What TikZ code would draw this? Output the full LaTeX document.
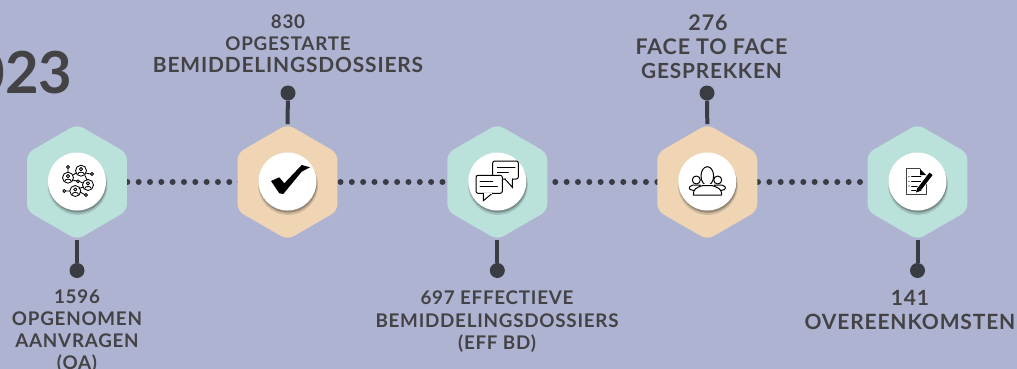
\documentclass[tikz,border=0pt]{standalone}
\usepackage{fontspec}
\setmainfont{Lato}
\usetikzlibrary{
  calc,positioning,shadows,backgrounds,
  shapes.geometric
}
\definecolor{bgcol}{RGB}{175,179,210}
\definecolor{mintcol}{RGB}{187,225,219}
\definecolor{tancol}{RGB}{239,213,179}
\definecolor{pincol}{RGB}{57,60,66}
\definecolor{inkcol}{RGB}{67,67,70}
\newcommand{\lesser}[1]{{\fontsize{18.8}{22}\selectfont #1}}
\tikzset{
  hexa/.style={regular polygon,regular polygon sides=6,regular polygon rotate=30,
    minimum size=115.4pt,inner sep=0pt,rounded corners=7pt},
  disc/.style={circle,fill=white,minimum size=58pt,inner sep=0pt,
    drop shadow={shadow xshift=0.6pt,shadow yshift=-3.4pt,shadow scale=1.03,fill=black!80,opacity=.18},
    drop shadow={shadow xshift=0.6pt,shadow yshift=-2.2pt,fill=black!80,opacity=.35}},
  pin/.style={circle,fill=pincol,minimum size=15pt,inner sep=0pt},
  stem/.style={pincol,line width=4pt},
  dotline/.style={pincol,line width=6pt,line cap=round,dash pattern=on 0.01pt off 11.32pt},
  lbl/.style n args={2}{inkcol,align=center,inner sep=0pt,font=\bfseries\fontsize{#1}{#2}\selectfont\addfontfeature{LetterSpace=4}},
  icon/.style={black,line width=1pt,line join=round,line cap=round},
  peep/.pic={
    \draw[icon,line width=0.85pt] (0,0) circle (5.5);
    \draw[icon,line width=0.85pt] (0,-1.6) circle (1.6);
    \draw[icon,line width=0.85pt] (-3.2,3.4) .. controls (-3,0.8) and (3,0.8) .. (3.2,3.4);
  },
  knot/.pic={\draw[icon,line width=0.85pt] (0,0) circle (1.5);}
}
\begin{document}
\begin{tikzpicture}[x=1pt,y=-1pt]
\useasboundingbox (0,0) rectangle (1017,369);

\node[hexa,fill=mintcol] (hexa) at (77,182) {};
\node[hexa,fill=tancol] (hexb) at (287.5,182) {};
\node[hexa,fill=mintcol] (hexc) at (497.3,182) {};
\node[hexa,fill=tancol] (hexd) at (707.3,182) {};
\node[hexa,fill=mintcol] (hexe) at (917.5,182) {};

\begin{scope}[on background layer]
\fill[bgcol] (0,0) rectangle (1017,369);
\foreach \from/\to/\ph in {hexa/hexb/6.33,hexb/hexc/3.66,hexc/hexd/9.98,hexd/hexe/5.96}
  \draw[dotline,dash phase=\ph pt] (\from.center) -- (\to.center);
\end{scope}

\foreach \name/\px in {a/77,b/287.5,c/497.3,d/707.3,e/917.5}
  \node[disc] (disc\name) at (\px,181.5) {};

\node[pin] (pina) at (77,270.5) {};
\node[pin] (pinb) at (288,93) {};
\node[pin] (pinc) at (497.3,270.5) {};
\node[pin] (pind) at (707,93) {};
\node[pin] (pine) at (917.5,270.5) {};
\draw[stem] (hexa.south) -- (pina);
\draw[stem] (hexb.north) -- (pinb);
\draw[stem] (hexc.south) -- (pinc);
\draw[stem] (hexd.north) -- (pind);
\draw[stem] (hexe.south) -- (pine);

\node[inkcol,anchor=east,inner sep=0pt,font=\bfseries\fontsize{58}{60}\selectfont] (year) at (72.5,73) {023};
\node[lbl={20.9}{22}] (txtb) at (288,44) {\lesser{830}\\\lesser{OPGESTARTE}\\BEMIDDELINGSDOSSIERS};
\node[lbl={21.5}{24}] (txtd) at (711.5,47) {\hspace*{-7pt}276\\FACE TO FACE\\{\fontsize{20.8}{24}\selectfont GESPREKKEN}};
\node[lbl={18.8}{22}] (txta) at (77,331.5) {1596\\OPGENOMEN\\AANVRAGEN\\(OA)};
\node[lbl={18.8}{22.5}] (txtc) at (497,322) {697 EFFECTIEVE\\BEMIDDELINGSDOSSIERS\\(EFF BD)};
\node[lbl={21}{24}] (txte) at (910,310) {141\\OVEREENKOMSTEN};

\draw[icon,line width=0.85pt] (68,168.5) -- (68,172) (85.5,173) -- (90.6,174) (76,173) -- (73,175)
  (72.5,180) -- (76.7,181) (79.5,181.5) -- (83,183) (85,175.5) -- (87,180) (65.8,191) -- (70,191)
  (80,192) -- (84.6,194.5) (79,188.5) -- (83.5,187);
\pic at (81,170.7) {peep};
\pic at (68,177.7) {peep};
\pic at (88,185) {peep};
\pic at (75.3,191) {peep};
\foreach \kx/\ky in {68/167,92/174,78/181.3,64.3/191,86/195}
  \pic at (\kx,\ky) {knot};

\fill[black] (271,181) -- (279.3,177.3) -- (284.3,183.3) -- (301.7,165) -- (310,167.3)
  -- (301.7,171.7) -- (283.3,194) -- (279.3,193.3) -- cycle;

\draw[icon,rounded corners=2pt,fill=white] (492.7,161) rectangle (518.3,179);
\draw[icon,fill=white,line join=miter] (505,179) -- (512.3,187.3) -- (512.3,179);
\draw[white,line width=1.2pt] (505.8,179) -- (511.6,179);
\draw[icon] (497.3,167.3) -- (515,167.3) (497.3,172) -- (508.3,172);
\draw[icon,rounded corners=2pt,fill=white] (476,175.3) rectangle (502.3,193.3);
\draw[icon,fill=white,line join=miter] (483.3,193.3) -- (483.3,200.7) -- (492.3,193.3);
\draw[white,line width=1.2pt] (484,193.3) -- (491.5,193.3);
\draw[icon] (480,181.7) -- (492.7,181.7) (480,186.7) -- (497.3,186.7);

\draw[icon,fill=white] (696.3,180) circle (4);
\draw[icon,fill=white] (717.7,180) circle (4);
\draw[icon,fill=white] (690,189.5) .. controls (688,187) and (691,185.5) .. (693,185) -- (700,185) -- (700,192) -- cycle;
\draw[icon,fill=white] (724.7,189.5) .. controls (726.7,187) and (723.7,185.5) .. (721.7,185) -- (714.7,185) -- (714.7,192) -- cycle;
\draw[icon,fill=white] (707.3,176) ellipse (6.3 and 9.3);
\draw[icon,fill=white] (693.3,195) .. controls (693.3,189) and (696,187.5) .. (703,185.5) -- (711.6,185.5)
  .. controls (718.6,187.5) and (721.7,189) .. (721.7,195) -- cycle;
\draw[white,line width=1.3pt] (703.5,184.6) -- (711,184.6);

\draw[icon,line width=0.6pt,black!75] (920,168.7) -- (906.7,168.7) -- (906.7,194.3) -- (926,194.3) -- (926,175);
\fill[black] (920,168.7) -- (926,175) -- (920,175) -- cycle;
\draw[icon,line width=0.9pt] (911.5,176.7) -- (921,176.7) (911.5,181.3) -- (921,181.3) (911.5,186) -- (918,186) (911.5,190) -- (916,190);
\fill[black] (909,176.7) circle (0.6) (909,181.3) circle (0.6) (909,186) circle (0.6);
\draw[white,line width=5.5pt] (930.8,174) -- (919.5,188.5);
\draw[black,line width=4pt] (931,173.8) -- (919.5,188.8);
\fill[black] (917.5,187.5) -- (921.5,190.5) -- (916,192.5) -- cycle;
\end{tikzpicture}
\end{document}
